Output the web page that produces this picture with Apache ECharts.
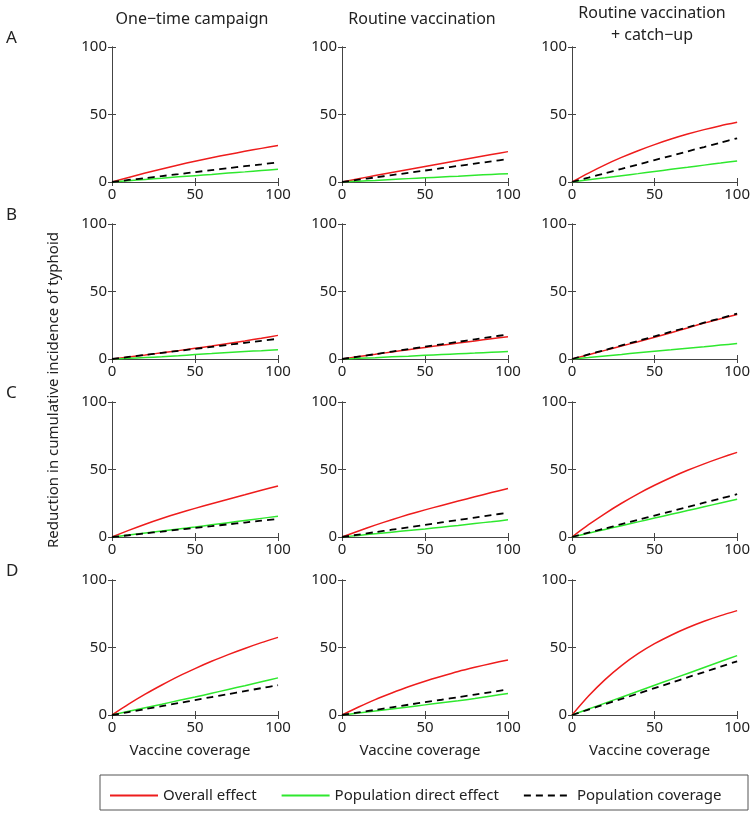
<!DOCTYPE html>
<html>
<head>
<meta charset="utf-8">
<script src="https://cdn.jsdelivr.net/npm/echarts@6/dist/echarts.min.js"></script>
<style>html,body{margin:0;padding:0;background:#fff}#c{width:753px;height:814px}</style>
</head>
<body>
<div id="c"></div>
<script>
// ---- data ----
const coverage = [0, 10, 20, 30, 40, 50, 60, 70, 80, 90, 100];
const rowLetters = ['A', 'B', 'C', 'D'];
const columnTitles = ['One\u2212time campaign', 'Routine vaccination', 'Routine vaccination\n+ catch\u2212up'];
const seriesNames = ['Overall effect', 'Population direct effect', 'Population coverage'];

const overall_A1 = [0, 3.4, 6.6, 9.6, 12.6, 15.4, 18.0, 20.4, 22.7, 24.9, 27.0];
const direct_A1  = [0, 0.9, 1.9, 2.8, 3.8, 4.7, 5.6, 6.6, 7.5, 8.5, 9.4];
const popcov_A1  = [0, 1.5, 2.9, 4.4, 5.8, 7.3, 8.8, 10.2, 11.7, 13.1, 14.6];

const overall_A2 = [0, 2.4, 4.8, 7.1, 9.3, 11.5, 13.7, 15.9, 18.1, 20.3, 22.5];
const direct_A2  = [0, 0.6, 1.2, 1.9, 2.5, 3.1, 3.7, 4.3, 5.0, 5.6, 6.2];
const popcov_A2  = [0, 1.7, 3.4, 5.1, 6.8, 8.5, 10.2, 11.9, 13.6, 15.3, 17.0];

const overall_A3 = [0, 6.6, 12.7, 18.2, 23.2, 27.7, 31.8, 35.5, 38.8, 41.7, 44.2];
const direct_A3  = [0, 1.6, 3.1, 4.7, 6.2, 7.8, 9.4, 10.9, 12.5, 14.0, 15.6];
const popcov_A3  = [0, 3.2, 6.5, 9.7, 13.0, 16.2, 19.4, 22.7, 25.9, 29.2, 32.4];

const overall_B1 = [0, 1.5, 3.0, 4.6, 6.2, 7.9, 9.6, 11.5, 13.4, 15.4, 17.5];
const direct_B1  = [0, 0.5, 1.1, 1.6, 2.4, 3.3, 4.0, 4.9, 5.6, 6.1, 6.8];
const popcov_B1  = [0, 1.5, 3.0, 4.5, 6.0, 7.5, 9.0, 10.5, 12.0, 13.5, 15.0];

const overall_B2 = [0, 1.8, 3.5, 5.2, 6.9, 8.6, 10.2, 11.8, 13.4, 15.0, 16.5];
const direct_B2  = [0, 0.5, 1.0, 1.6, 2.1, 2.7, 3.3, 3.9, 4.4, 5.0, 5.6];
const popcov_B2  = [0, 1.8, 3.6, 5.5, 7.3, 9.1, 10.9, 12.7, 14.6, 16.4, 18.2];

const overall_B3 = [0, 3.2, 6.4, 9.6, 12.8, 16.1, 19.5, 23.0, 26.6, 29.8, 33.0];
const direct_B3  = [0, 1.1, 2.3, 3.4, 4.6, 5.7, 6.8, 8.0, 9.1, 10.3, 11.4];
const popcov_B3  = [0, 3.4, 6.7, 10.1, 13.4, 16.8, 20.2, 23.5, 26.9, 30.2, 33.6];

const overall_C1 = [0, 4.9, 9.5, 13.7, 17.6, 21.2, 24.7, 28.0, 31.3, 34.6, 37.8];
const direct_C1  = [0, 1.5, 3.0, 4.5, 5.9, 7.4, 9.0, 10.6, 12.2, 13.8, 15.4];
const popcov_C1  = [0, 1.3, 2.7, 4.0, 5.4, 6.7, 8.0, 9.4, 10.7, 12.1, 13.4];

const overall_C2 = [0, 4.5, 8.8, 12.8, 16.6, 20.1, 23.4, 26.6, 29.8, 32.9, 35.9];
const direct_C2  = [0, 1.2, 2.4, 3.6, 4.8, 6.0, 7.3, 8.6, 10.0, 11.3, 12.7];
const popcov_C2  = [0, 1.8, 3.6, 5.4, 7.2, 9.0, 10.8, 12.6, 14.4, 16.2, 18.0];

const overall_C3 = [0, 9.1, 17.4, 25.0, 32.0, 38.3, 44.1, 49.4, 54.2, 58.6, 62.7];
const direct_C3  = [0, 2.8, 5.6, 8.4, 11.2, 14.0, 16.8, 19.6, 22.4, 25.2, 28.0];
const popcov_C3  = [0, 3.2, 6.3, 9.5, 12.7, 15.9, 19.0, 22.2, 25.4, 28.5, 31.7];

const overall_D1 = [0, 8.0, 15.4, 22.2, 28.6, 34.4, 39.8, 44.7, 49.3, 53.6, 57.5];
const direct_D1  = [0, 2.7, 5.4, 8.0, 10.7, 13.3, 16.1, 18.9, 21.7, 24.6, 27.5];
const popcov_D1  = [0, 2.2, 4.4, 6.6, 8.8, 11.0, 13.3, 15.5, 17.7, 19.9, 22.1];

const overall_D2 = [0, 5.9, 11.4, 16.3, 20.9, 25.0, 28.7, 32.2, 35.3, 38.2, 40.8];
const direct_D2  = [0, 1.5, 3.0, 4.5, 6.0, 7.5, 9.0, 10.5, 12.2, 14.1, 16.0];
const popcov_D2  = [0, 1.9, 3.8, 5.7, 7.6, 9.5, 11.3, 13.2, 15.1, 17.0, 18.9];

const overall_D3 = [0, 14.0, 26.2, 36.6, 45.4, 52.8, 59.1, 64.6, 69.4, 73.6, 77.3];
const direct_D3  = [0, 4.4, 8.8, 13.2, 17.6, 22.0, 26.4, 30.8, 35.2, 39.6, 44.0];
const popcov_D3  = [0, 4.0, 8.0, 11.9, 15.9, 19.9, 23.9, 27.9, 31.8, 35.8, 39.8];

const panels = [
  [overall_A1, direct_A1, popcov_A1], [overall_A2, direct_A2, popcov_A2], [overall_A3, direct_A3, popcov_A3],
  [overall_B1, direct_B1, popcov_B1], [overall_B2, direct_B2, popcov_B2], [overall_B3, direct_B3, popcov_B3],
  [overall_C1, direct_C1, popcov_C1], [overall_C2, direct_C2, popcov_C2], [overall_C3, direct_C3, popcov_C3],
  [overall_D1, direct_D1, popcov_D1], [overall_D2, direct_D2, popcov_D2], [overall_D3, direct_D3, popcov_D3]
];

// ---- layout ----
const FONT = 'Noto Sans';
const colLefts = [112, 342, 572];
const rowTops = [47, 224, 402, 580];
const GW = 166, GH = 135;
const AX = '#444';
const TXT = '#222';
const lineColors = ['#ee1c1c', '#2ee82e', '#000000'];

const grids = [], xAxes = [], yAxes = [], series = [];
panels.forEach((p, i) => {
  const r = Math.floor(i / 3), c = i % 3;
  grids.push({left: colLefts[c], top: rowTops[r], width: GW, height: GH});
  const common = {
    type: 'value', min: 0, max: 100, interval: 50, gridIndex: i,
    axisLine: {show: true, lineStyle: {color: AX, width: 1}},
    axisTick: {show: true, inside: true, length: 4, lineStyle: {color: AX}},
    splitLine: {show: false}
  };
  const isBottom = r === 3;
  xAxes.push(Object.assign({}, common, {
    position: 'bottom',
    axisLabel: {show: true, color: TXT, fontFamily: FONT, fontSize: 15, margin: 5},
    name: isBottom ? 'Vaccine coverage' : '',
    nameLocation: 'middle', nameGap: 28,
    nameTextStyle: {color: TXT, fontFamily: FONT, fontSize: 15, padding: [0, 10, 0, 0]}
  }));
  xAxes.push(Object.assign({}, common, {position: 'top', axisLabel: {show: false}}));
  yAxes.push(Object.assign({}, common, {
    position: 'left',
    axisLabel: {show: true, color: TXT, fontFamily: FONT, fontSize: 15, margin: 5}
  }));
  yAxes.push(Object.assign({}, common, {position: 'right', axisLabel: {show: false}}));
  p.forEach((vals, k) => {
    series.push({
      type: 'line', name: seriesNames[k],
      xAxisIndex: 2 * i, yAxisIndex: 2 * i,
      data: coverage.map((x, j) => [x, vals[j]]),
      symbol: 'none', showSymbol: false, smooth: 0.25,
      lineStyle: k === 2 ? {color: lineColors[k], width: 1.8, type: [7, 5]} : {color: lineColors[k], width: 1.5},
      itemStyle: {color: lineColors[k]},
      silent: true, animation: false
    });
  });
});

const titles = [];
columnTitles.forEach((t, c) => {
  titles.push({
    text: t, left: colLefts[c] + GW / 2 - 8, top: c === 2 ? -3 : 3, textAlign: 'center',
    textStyle: {fontFamily: FONT, fontSize: 16, fontWeight: 'normal', color: TXT, lineHeight: 22}
  });
});
rowLetters.forEach((l, r) => {
  titles.push({
    text: l, left: 1, top: rowTops[r] - 22,
    textStyle: {fontFamily: FONT, fontSize: 17, fontWeight: 'normal', color: TXT}
  });
});

const option = {
  animation: false,
  title: titles,
  grid: grids,
  xAxis: xAxes,
  yAxis: yAxes,
  series: series,
  legend: {
    data: seriesNames,
    left: 104, top: 783,
    itemWidth: 48, itemHeight: 14, itemGap: 24,
    itemStyle: {opacity: 0},
    textStyle: {fontFamily: FONT, fontSize: 15, color: TXT},
    selectedMode: false
  },
  graphic: [
    {type: 'rect', shape: {x: 100, y: 775, width: 648, height: 35},
     style: {fill: 'none', stroke: '#555', lineWidth: 1}},
    {type: 'text', x: 54, y: 390, rotation: Math.PI / 2,
     style: {text: 'Reduction in cumulative incidence of typhoid', fontFamily: FONT, fontSize: 15,
             fill: TXT, textAlign: 'center', textVerticalAlign: 'middle'}}
  ]
};
echarts.init(document.getElementById('c')).setOption(option);
</script>
</body>
</html>
